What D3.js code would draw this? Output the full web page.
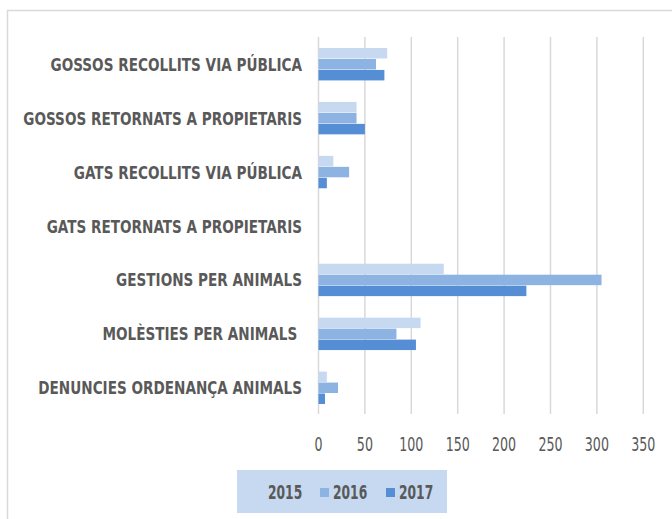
<!DOCTYPE html>
<html>
<head>
<meta charset="utf-8">
<script src="https://cdn.jsdelivr.net/npm/d3@7"></script>
<style>
  body { margin: 0; background: white; }
  text { font-family: "DejaVu Sans Condensed", "DejaVu Sans", sans-serif; font-stretch: condensed; }
</style>
</head>
<body>
<div id="chart"></div>
<script>
// data
var categories = ["GOSSOS RECOLLITS VIA PÚBLICA", "GOSSOS RETORNATS A PROPIETARIS", "GATS RECOLLITS VIA PÚBLICA",
  "GATS RETORNATS A PROPIETARIS", "GESTIONS PER ANIMALS", "MOLÈSTIES PER ANIMALS ", "DENUNCIES ORDENANÇA ANIMALS"];
var years = ["2015", "2016", "2017"];
var v2015 = [74, 41, 16, 0, 135, 110, 9];
var v2016 = [62, 41, 33, 0, 305, 84, 21];
var v2017 = [71, 50, 9, 0, 224, 105, 7];
var ticks = [0, 50, 100, 150, 200, 250, 300, 350];
var colors = ["#c6d9f0", "#8db3e2", "#558ed5"];

var series = [v2015, v2016, v2017];

var svg = d3.select("#chart").append("svg").attr("width", 672).attr("height", 519);
svg.append("rect").attr("width", 672).attr("height", 519).attr("fill", "white");
// chart border (runs off the right and bottom)
svg.append("rect").attr("x", 7.5).attr("y", 10.5).attr("width", 700).attr("height", 600)
  .attr("fill", "none").attr("stroke", "#d9d9d9").attr("stroke-width", 1.5);

var x = d3.scaleLinear().domain([0, 350]).range([318.5, 643.3]);
var y = d3.scaleBand().domain(categories).range([37.5, 415]).paddingInner(0.39).paddingOuter(0.195);
var ySub = d3.scaleBand().domain(years).range([0, y.bandwidth()]);

// gridlines
svg.append("g").selectAll("line").data(ticks).enter().append("line")
  .attr("x1", function(d){ return x(d); }).attr("x2", function(d){ return x(d); })
  .attr("y1", 37).attr("y2", 414)
  .attr("stroke", "#d9d9d9").attr("stroke-width", 1.5);

// bars
var groups = svg.append("g").selectAll("g").data(categories).enter().append("g")
  .attr("transform", function(d){ return "translate(0," + y(d) + ")"; });
groups.selectAll("rect").data(function(d, i){ return years.map(function(yr, j){ return {yr: yr, v: series[j][i], j: j}; }); })
  .enter().append("rect")
  .attr("x", x(0)).attr("y", function(d){ return ySub(d.yr); })
  .attr("width", function(d){ return x(d.v) - x(0); })
  .attr("height", ySub.bandwidth() - 0.5)
  .attr("fill", function(d){ return colors[d.j]; });

// category labels (squeezed to mimic the narrow original font)
svg.append("g").selectAll("text").data(categories).enter().append("text")
  .attr("transform", function(d){ return "translate(302," + (y(d) + y.bandwidth() / 2) + ")scale(0.84,1)"; })
  .attr("dy", "0.35em").attr("text-anchor", "end")
  .style("font-size", "18px").style("font-weight", "bold").style("fill", "#595959")
  .style("white-space", "pre")
  .text(function(d){ return d; });

// x axis labels
svg.append("g").selectAll("text").data(ticks).enter().append("text")
  .attr("transform", function(d){ return "translate(" + x(d) + ",444.5)scale(0.74,1)"; }).attr("dy", "0.35em")
  .attr("text-anchor", "middle").style("font-size", "19px").style("fill", "#595959")
  .text(function(d){ return d; });

// legend
var legend = svg.append("g");
legend.append("rect").attr("x", 237).attr("y", 470).attr("width", 210).attr("height", 43).attr("fill", "#c6d9f1");
var legX = [255, 320, 386];
years.forEach(function(yr, j){
  legend.append("rect").attr("x", legX[j]).attr("y", 488).attr("width", 9).attr("height", 9).attr("fill", colors[j]);
  legend.append("text").attr("transform", "translate(" + (legX[j] + 13) + ",492)scale(0.72,1)").attr("dy", "0.35em")
    .style("font-size", "19px").style("font-weight", "bold").style("fill", "#595959").text(yr);
});
</script>
</body>
</html>
